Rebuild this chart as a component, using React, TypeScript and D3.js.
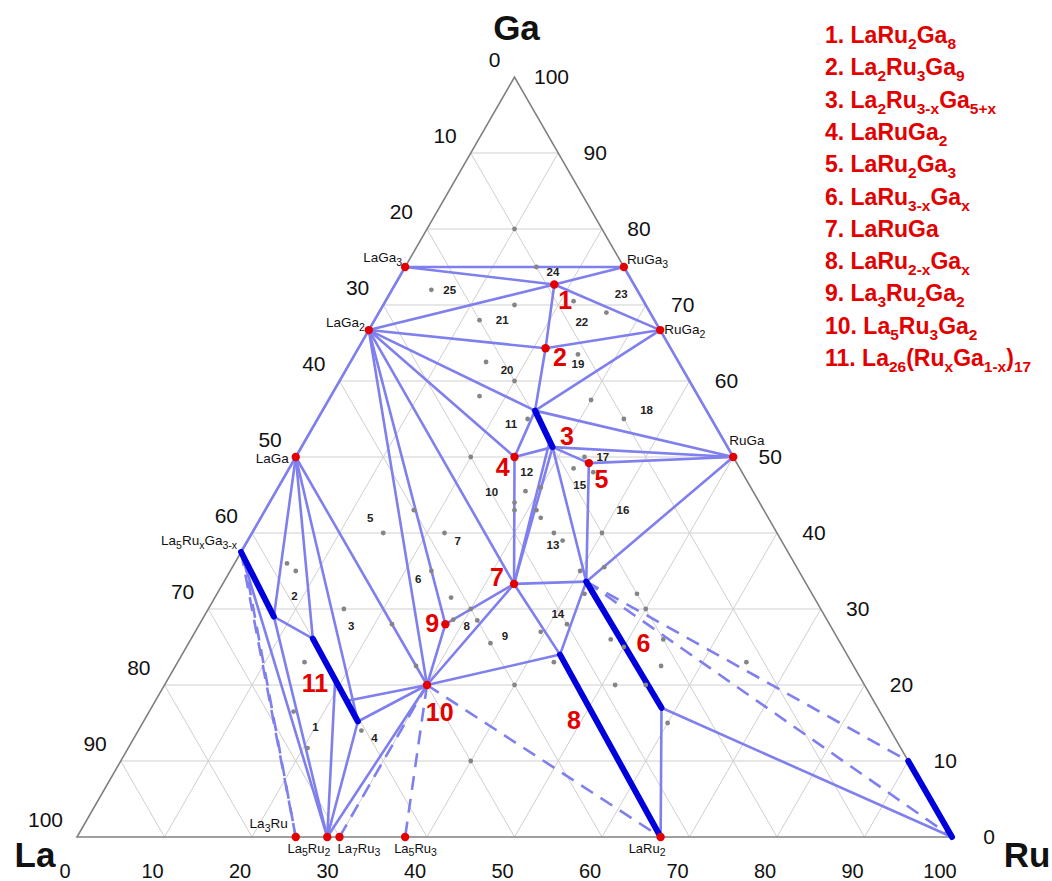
import React from 'react';
import * as d3 from 'd3';

// Compositions in at.% : [id, Ru, Ga]  (La = 100 - Ru - Ga)
const nodes: [string, number, number][] = [
  ['La', 0, 0], ['Ru', 100, 0], ['Ga', 0, 100],
  ['LaGa3', 0, 75], ['RuGa3', 25, 75], ['LaGa2', 0, 66.7], ['RuGa2', 33.3, 66.7],
  ['LaGa', 0, 50], ['RuGa', 50, 50], ['La5Ga3', 0, 37.5], ['La5c', 0.8, 36.6], ['La5RuGa2', 8, 29],
  ['T1', 18.2, 72.7], ['T2', 21.4, 64.3], ['T3a', 24.3, 56.1], ['T3b', 28.7, 51.3], ['T3c', 28.0, 52.0],
  ['T4', 25, 50], ['T5', 33.9, 49.2], ['T6a', 41.4, 33.6], ['T6b', 58.3, 17],
  ['T7', 33.3, 33.3], ['T8a', 43.2, 24], ['LaRu2', 66.7, 0], ['T9', 28.1, 28],
  ['T10', 30, 20], ['T11a', 13.9, 26.1], ['T11m1', 19.2, 20.6], ['T11m2', 21.8, 17.9], ['T11b', 24.5, 15.2],
  ['La3Ru', 25, 0], ['La5Ru2', 28.6, 0], ['La7Ru3', 30, 0], ['La5Ru3', 37.5, 0], ['Ru9Ga', 90, 10],
];

const redPoints = ['LaGa3', 'RuGa3', 'T1', 'LaGa2', 'RuGa2', 'T2', 'LaGa', 'RuGa', 'T4', 'T5', 'T7', 'T9', 'T10',
  'La3Ru', 'La5Ru2', 'La7Ru3', 'La5Ru3', 'LaRu2'];

const tiesSolid: [string, string][] = [
  ['LaGa3', 'RuGa3'], ['LaGa3', 'T1'], ['T1', 'RuGa3'], ['T1', 'RuGa2'], ['T1', 'LaGa2'], ['T1', 'T2'],
  ['LaGa2', 'T2'], ['T2', 'RuGa2'], ['LaGa3', 'LaGa2'], ['LaGa2', 'LaGa'], ['LaGa', 'La5Ga3'],
  ['RuGa3', 'RuGa2'], ['RuGa2', 'RuGa'], ['T2', 'T3a'], ['RuGa2', 'T3a'], ['LaGa2', 'T3a'], ['LaGa2', 'T4'],
  ['T3a', 'T4'], ['T3a', 'RuGa'], ['T3b', 'RuGa'], ['T5', 'RuGa'], ['T3b', 'T5'], ['T4', 'T3b'],
  ['T4', 'T7'], ['T3b', 'T7'], ['T3c', 'T7'], ['T3b', 'T6a'], ['T5', 'T6a'], ['T7', 'T6a'], ['T6a', 'RuGa'],
  ['T7', 'T8a'], ['T6a', 'T8a'], ['T6b', 'LaRu2'], ['T6b', 'Ru'], ['T10', 'T8a'], ['T10', 'T7'], ['T9', 'T7'],
  ['T9', 'T10'], ['LaGa2', 'T9'], ['LaGa2', 'T10'], ['LaGa2', 'T7'], ['LaGa', 'La5RuGa2'], ['LaGa', 'T11a'],
  ['LaGa', 'T11b'], ['LaGa', 'T10'], ['La5RuGa2', 'T11a'], ['La5Ga3', 'La5Ru2'], ['La5RuGa2', 'La5Ru2'],
  ['T11m1', 'La5Ru2'], ['T11b', 'La5Ru2'], ['T11m2', 'T10'], ['T11b', 'T10'], ['T10', 'La5Ru2'],
];
const tiesDashed: [string, string][] = [
  ['La5Ga3', 'La3Ru'], ['La5c', 'La3Ru'], ['T10', 'La7Ru3'], ['T10', 'La5Ru3'], ['T10', 'LaRu2'],
  ['T6a', 'Ru9Ga'], ['T6a', 'Ru'],
];
const tiesThick: [string, string][] = [
  ['La5Ga3', 'La5RuGa2'], ['T3a', 'T3b'], ['T6a', 'T6b'], ['T8a', 'LaRu2'], ['T11a', 'T11b'], ['Ru9Ga', 'Ru'],
];

// Sample compositions (gray dots) [Ru, Ga]
const samples: [number, number][] = [
  [10, 80], [15, 75], [4.5, 72], [15, 70], [21.5, 70.5], [12, 68], [26, 69], [15.5, 62.5], [20, 60], [25.5, 63.5],
  [17, 58], [30, 57.5], [35, 55], [24, 55], [20, 50], [33, 50], [32.5, 48.5], [35, 48], [28.5, 45.5], [30, 46],
  [28, 44], [28.5, 43], [31, 43], [32, 42], [17, 43], [15, 40], [22, 40], [34.5, 40], [36, 39], [40, 40],
  [6, 36], [7.5, 35], [23, 35], [40, 35], [42.5, 35.5], [27, 31.5], [15.5, 30], [22, 28], [30, 30], [31.5, 28.5],
  [28.7, 28.6], [34.5, 25.5], [39.5, 27], [42, 28], [42, 32], [48, 32], [50, 30], [48, 26], [50, 25], [54, 26],
  [55.5, 22.5], [65, 23], [51.5, 20], [60, 15], [43, 23], [40, 20], [27.5, 22.5], [14.5, 23], [16.5, 16.5],
  [20.5, 11.7], [25.5, 14], [40, 10], [55, 20],
];
// Sample numbers with label compositions [n, Ru, Ga]
const sampleLabels: [string, number, number][] = [
  ['1', 20, 14.5], ['2', 9, 31.7], ['3', 17.5, 27.7], ['4', 27.5, 13], ['5', 12.5, 42], ['6', 22, 34],
  ['7', 24, 39], ['8', 30.7, 27.7], ['9', 35.7, 26.4], ['10', 24.7, 45.4], ['11', 22.4, 54.4], ['12', 27.4, 48],
  ['13', 35.2, 38.4], ['14', 40.3, 29.3], ['15', 34.3, 46.3], ['16', 40.9, 43], ['17', 35.1, 50],
  ['18', 37, 56.2], ['19', 26.1, 62.3], ['20', 18.4, 61.5], ['21', 14.6, 68], ['22', 23.8, 67.8],
  ['23', 26.5, 71.4], ['24', 17.2, 74.4], ['25', 6.6, 72],
];
// Ternary phase numbers [n, Ru, Ga]
const phaseNumbers: [string, number, number][] = [
  ['1', 20.5, 70.6], ['2', 23.6, 63.2], ['3', 29.6, 52.8], ['4', 24.3, 48.7], ['5', 36.4, 47.1],
  ['6', 52, 25.5], ['7', 30.9, 34.2], ['8', 49.1, 15.4], ['9', 26.5, 28.2], ['10', 33.2, 16.5], ['11', 17.1, 20.2],
];
// Binary phase labels [node, formula]
const phaseNames: [string, string][] = [
  ['LaGa3', 'LaGa_{3}'], ['RuGa3', 'RuGa_{3}'], ['LaGa2', 'LaGa_{2}'], ['RuGa2', 'RuGa_{2}'], ['RuGa', 'RuGa'],
  ['LaGa', 'LaGa'], ['La5Ga3', 'La_{5}Ru_{x}Ga_{3-x}'], ['La3Ru', 'La_{3}Ru'], ['La5Ru2', 'La_{5}Ru_{2}'],
  ['La7Ru3', 'La_{7}Ru_{3}'], ['La5Ru3', 'La_{5}Ru_{3}'], ['LaRu2', 'LaRu_{2}'],
];
const legendItems: string[] = [
  '1. LaRu_{2}Ga_{8}', '2. La_{2}Ru_{3}Ga_{9}', '3. La_{2}Ru_{3-x}Ga_{5+x}', '4. LaRuGa_{2}', '5. LaRu_{2}Ga_{3}',
  '6. LaRu_{3-x}Ga_{x}', '7. LaRuGa', '8. LaRu_{2-x}Ga_{x}', '9. La_{3}Ru_{2}Ga_{2}', '10. La_{5}Ru_{3}Ga_{2}',
  '11. La_{26}(Ru_{x}Ga_{1-x})_{17}',
];
const ticks = d3.range(0, 101, 10);

// label placement (style)
const nameStyle: Record<string, { dx: number; dy: number; anchor: string; fs: number; sh: number }> = {
  LaGa3: { dx: -3, dy: -5, anchor: 'end', fs: 13.5, sh: 4 }, RuGa3: { dx: 3, dy: -3, anchor: 'start', fs: 13.5, sh: 4 },
  LaGa2: { dx: -4, dy: -3, anchor: 'end', fs: 13.5, sh: 4 }, RuGa2: { dx: 4, dy: 4, anchor: 'start', fs: 13.5, sh: 4 },
  RuGa: { dx: -4, dy: -12, anchor: 'start', fs: 13.5, sh: 4 }, LaGa: { dx: -7, dy: 6, anchor: 'end', fs: 13.5, sh: 4 },
  La5Ga3: { dx: -4, dy: -7, anchor: 'end', fs: 13.5, sh: 4 }, La3Ru: { dx: -8, dy: -9, anchor: 'end', fs: 13.5, sh: 4 },
  La5Ru2: { dx: 3, dy: 16, anchor: 'end', fs: 13, sh: 3 }, La7Ru3: { dx: -2, dy: 16, anchor: 'start', fs: 13, sh: 3 },
  La5Ru3: { dx: -11, dy: 16, anchor: 'start', fs: 13, sh: 3 }, LaRu2: { dx: -32, dy: 16, anchor: 'start', fs: 13, sh: 3 },
};

const BLUE = '#7f7fee';
const THICK = '#0000dd';
const RED = '#e30000';
const FONT = "'Liberation Sans', Arial, sans-serif";

const X = d3.scaleLinear().domain([0, 100]).range([77, 952]);
const Y = d3.scaleLinear().domain([0, 100]).range([837, 77]);
const P = (ru: number, ga: number): [number, number] => [X(ru + ga / 2), Y(ga)];
const nodeMap = new Map(nodes.map(([id, ru, ga]) => [id, P(ru, ga)]));

function rich(str: string, subSize: number, shift: number) {
  const parts = str.split(/(_\{[^}]*\})/).filter((s) => s.length);
  const out: React.ReactNode[] = [];
  let down = false;
  parts.forEach((p, i) => {
    if (p.startsWith('_{')) {
      out.push(<tspan key={i} fontSize={subSize} dy={down ? 0 : shift}>{p.slice(2, -1)}</tspan>);
      down = true;
    } else {
      out.push(<tspan key={i} dy={down ? -shift : 0}>{p}</tspan>);
      down = false;
    }
  });
  return out;
}

const line = d3.line();

export default function App() {
  const seg = (a: string, b: string) => line([nodeMap.get(a)!, nodeMap.get(b)!]) || '';
  const gridLines: [number, number][][] = [];
  ticks.slice(1, -1).forEach((k) => {
    gridLines.push([P(0, k), P(100 - k, k)]);
    gridLines.push([P(k, 0), P(k, 100 - k)]);
    gridLines.push([P(100 - k, 0), P(0, 100 - k)]);
  });
  const tri = [P(0, 0), P(100, 0), P(0, 100)];
  return (
    <svg width={1052} height={881} style={{ position: 'absolute', left: 0, top: 0, background: '#fff' }} fontFamily={FONT}>
      <rect width={1052} height={881} fill="#fff" />
      {gridLines.map((g, i) => (
        <path key={i} d={line(g) || ''} stroke="#cfcfcf" strokeWidth={1} fill="none" />
      ))}
      <path d={(line(tri) || '') + 'Z'} stroke="#808080" strokeWidth={1.6} fill="none" />
      {tiesSolid.map(([a, b], i) => (
        <path key={'s' + i} d={seg(a, b)} stroke={BLUE} strokeWidth={2.6} fill="none" strokeLinecap="round" />
      ))}
      {tiesDashed.map(([a, b], i) => (
        <path key={'d' + i} d={seg(a, b)} stroke={BLUE} strokeWidth={2.6} fill="none" strokeDasharray="14,9" />
      ))}
      {tiesThick.map(([a, b], i) => (
        <path key={'t' + i} d={seg(a, b)} stroke={THICK} strokeWidth={6} fill="none" strokeLinecap="round" />
      ))}
      {samples.map(([ru, ga], i) => {
        const [x, y] = P(ru, ga);
        return <circle key={'g' + i} cx={x} cy={y} r={2.4} fill="#858585" />;
      })}
      {redPoints.map((id) => {
        const [x, y] = nodeMap.get(id)!;
        return <circle key={id} cx={x} cy={y} r={4.2} fill={RED} />;
      })}
      {sampleLabels.map(([n, ru, ga]) => {
        const [x, y] = P(ru, ga);
        return (
          <text key={'sl' + n} x={x} y={y + 4} textAnchor="middle" fontSize={11.5} fontWeight="bold" fill="#222">{n}</text>
        );
      })}
      {phaseNumbers.map(([n, ru, ga]) => {
        const [x, y] = P(ru, ga);
        return (
          <text key={'pn' + n} x={x} y={y + 9} textAnchor="middle" fontSize={25} fontWeight="bold" fill={RED}>{n}</text>
        );
      })}
      {phaseNames.map(([id, f]) => {
        const [x, y] = nodeMap.get(id)!;
        const s = nameStyle[id];
        return (
          <text key={'nm' + id} x={x + s.dx} y={y + s.dy} textAnchor={s.anchor} fontSize={s.fs} fill="#111">
            {rich(f, 10.5, s.sh)}
          </text>
        );
      })}
      {ticks.map((k) => {
        const [x, y] = P(0, 100 - k);
        return <text key={'la' + k} x={x - 14} y={y - 10} textAnchor="end" fontSize={21} fill="#111">{k}</text>;
      })}
      {ticks.map((g) => {
        const [x, y] = P(100 - g, g);
        return <text key={'ga' + g} x={x + 37} y={y + 7} textAnchor="middle" fontSize={21} fill="#111">{g}</text>;
      })}
      {ticks.map((r) => {
        const [x] = P(r, 0);
        return <text key={'ru' + r} x={x - 12} y={878} textAnchor="middle" fontSize={20} fill="#111">{r}</text>;
      })}
      <text x={X(50) + 2} y={40} textAnchor="middle" fontSize={35} fontWeight="bold" fill="#111">Ga</text>
      <text x={35} y={867} textAnchor="middle" fontSize={35} fontWeight="bold" fill="#111">La</text>
      <text x={1027} y={867} textAnchor="middle" fontSize={35} fontWeight="bold" fill="#111">Ru</text>
      {legendItems.map((it, i) => (
        <text key={'lg' + i} x={825} y={43 + i * 32.3} fontSize={23} fontWeight="bold" fill={RED}>
          {rich(it, 15.5, 6)}
        </text>
      ))}
    </svg>
  );
}
